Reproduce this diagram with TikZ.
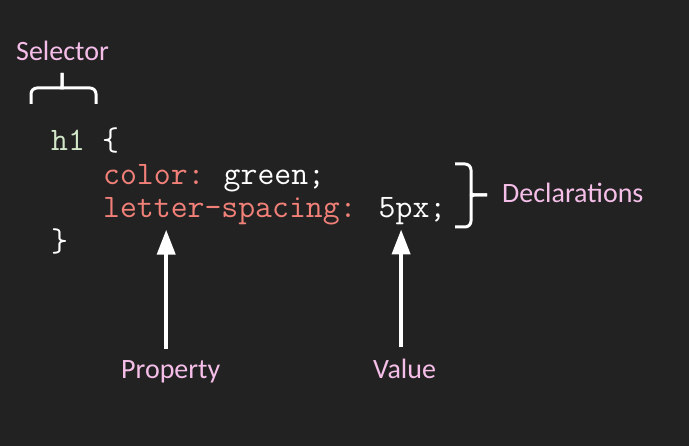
\documentclass[tikz,border=0pt]{standalone}
\usepackage{fontspec}
\setmainfont{Carlito}
\usetikzlibrary{arrows.meta}

\definecolor{bgdark}{HTML}{222222}
\definecolor{labelpink}{HTML}{F5BEE8}
\definecolor{propred}{HTML}{F08078}
\definecolor{selgreen}{HTML}{D2E8C8}

\tikzset{
  label/.style={inner sep=0pt, anchor=base west, text=labelpink, font=\fontsize{28}{34}\selectfont},
  code/.style={inner sep=0pt, anchor=base west, font=\ttfamily\fontsize{32.8}{36}\selectfont},
  bracket/.style={draw=white, line width=3pt, rounded corners=6pt},
  pointer/.style={draw=white, line width=4pt, -{Triangle[width=18pt,length=25pt]}}
}

\begin{document}
\begin{tikzpicture}[x=1pt,y=-1pt]
\fill [bgdark] (0,0) rectangle (689,446);
\useasboundingbox (0,0) rectangle (689,446);

% labels
\node [label] (selector) at (16,61) {Selector};
\node [label] (decl) at (502,203) {Declarations};
\node [label] (property) at (121,379) {Property};
\node [label] (value) at (373,379) {Value};

% code
\node [code, text=selgreen] (h1) at (51,151) {h1};
\node [code, text=white] (open) at (102,151) {\{};
\node [code, text=propred] (col) at (103,185) {color:};
\node [code, text=white] (green) at (103+7*17.22,185) {green;};
\node [code, text=propred] (lsp) at (103,218) {letter-spacing:};
\node [code, text=white] (px) at (103+16*17.22,218) {5px;};
\node [code, text=white] (close) at (51,252) {\}};

% braces
\draw [bracket] (31,104) |- (56,88) .. controls (61,88) and (62,86) .. (62,80) -- (62,73);
\draw [bracket] (62,73) -- (62,80) .. controls (62,86) and (63,88) .. (68,88) -| (96,104);
\draw [bracket] (455,164) -| (471,188) .. controls (471,193) and (473,195) .. (480,195) -- (487,195);
\draw [bracket] (487,195) -- (480,195) .. controls (473,195) and (471,197) .. (471,202) |- (455,227);

% arrows
\draw [pointer] ([xshift=-4.5pt,yshift=12pt]property.north) -- ([xshift=-4.5pt,yshift=-4pt]property.north |- lsp.south);
\draw [pointer] ([xshift=-3.5pt,yshift=12pt]value.north) -- ([xshift=-3.5pt,yshift=-4pt]value.north |- px.south);
\end{tikzpicture}
\end{document}
